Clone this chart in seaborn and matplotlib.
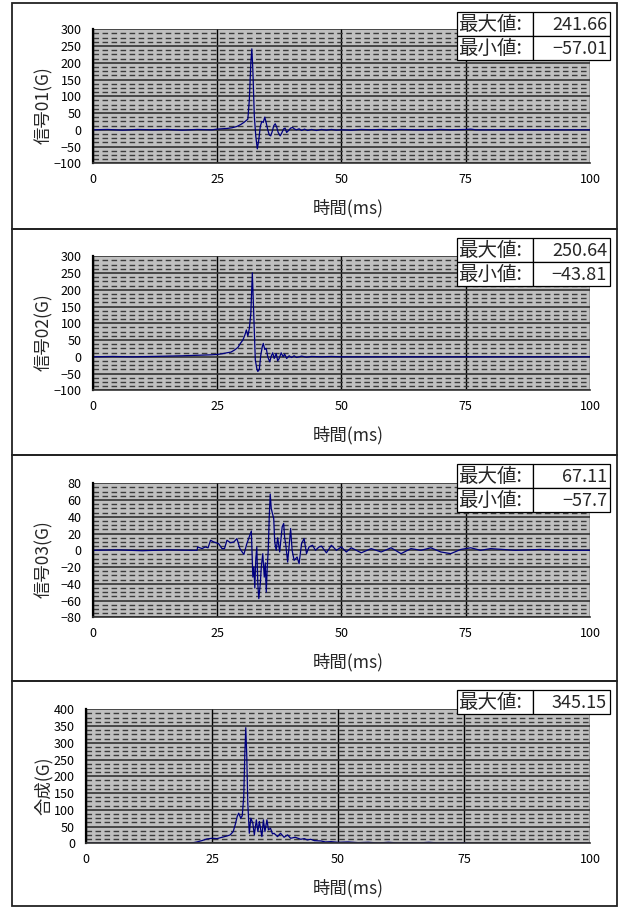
import pandas as pd
import seaborn as sns
import matplotlib.pyplot as plt
from matplotlib.patches import Rectangle
from matplotlib.ticker import MultipleLocator

# Hand-read waveform points (time ms, value G)
sig01 = [(0, 0), (3, 1), (6, -1), (9, 1), (12, 0), (15, 1), (18, -1), (21, 1), (24, 0),
         (25, 2), (26, 3), (27, 4), (28, 6), (29, 10), (29.8, 16), (30.4, 22), (30.9, 28),
         (31.2, 32), (31.5, 90), (31.8, 200), (32.0, 241.66), (32.2, 180), (32.5, 40),
         (32.8, -20), (33.1, -57.01), (33.4, -30), (33.7, 10), (34.0, 25), (34.3, 22),
         (34.6, 38), (34.9, 20), (35.2, 0), (35.5, -15), (35.8, -18), (36.1, -5), (36.4, 12),
         (36.7, 18), (37.0, 8), (37.3, -8), (37.7, -18), (38.0, -10), (38.4, 3), (38.7, 5),
         (39.0, -8), (39.4, -2), (39.8, 5), (40.2, 7), (40.6, 2), (41.0, 0), (41.5, 3),
         (42.0, -2), (42.6, 2), (43.2, -2), (44, 1), (45, -2), (46, 1), (47, -1), (48, 1),
         (49, -1), (50, 0), (52, -1), (54, 1), (56, 0), (58, 1), (60, 0), (62, 1), (65, 0),
         (68, 0), (70, 1), (72, 0), (75, 1), (76, 2), (77, 0), (100, 0)]

sig02 = [(0, 0), (4, 1), (8, 0), (12, 1), (15, 2), (18, 3), (20, 4), (22, 5), (24, 6),
         (25, 7), (26, 9), (27, 12), (27.8, 14), (28.5, 20), (29.2, 28), (29.7, 40),
         (30.2, 50), (30.6, 65), (30.9, 80), (31.2, 62), (31.5, 85), (31.8, 130),
         (32.1, 250.64), (32.4, 120), (32.7, -10), (33.0, -35), (33.2, -43.81), (33.5, -38),
         (33.8, 5), (34.1, 30), (34.3, 40), (34.6, 22), (34.9, 25), (35.2, 0), (35.6, -15),
         (35.9, 2), (36.2, 12), (36.5, -5), (36.9, 10), (37.2, -12), (37.5, -5), (37.9, 12),
         (38.3, 0), (38.6, 8), (39.0, -5), (39.5, 3), (40, -2), (40.5, 3), (41, -2), (42, 2),
         (43, -1), (44, 1), (46, 0), (48, 1), (50, 0), (100, 0)]

sig03 = [(0, 0), (5, 0.5), (10, -0.5), (15, 0.5), (20, 0), (21, 0), (21.1, 4), (22, 2),
         (22.6, 4), (23.2, 3), (23.7, 12), (24.3, 10), (25.3, 8), (26, 2), (26.5, 2),
         (27, 12), (27.7, 9), (28.4, 10), (29, 14), (29.6, 2), (30.4, -5), (31, 8),
         (31.6, 18), (31.9, 23), (32.2, -32), (32.4, -20), (32.6, -45), (32.8, -10),
         (33.0, 4), (33.2, -40), (33.4, -57.7), (33.7, -40), (33.9, -20), (34.2, -4),
         (34.5, -32), (34.7, -15), (34.9, -50), (35.1, -20), (35.3, 0), (35.5, 40),
         (35.7, 67.11), (35.9, 50), (36.1, 45), (36.4, 38), (36.6, 10), (36.9, 0), (37.2, 15),
         (37.6, -2), (38.1, 28), (38.4, 32), (38.6, 15), (38.8, 8), (39.2, -14), (39.5, 5),
         (39.8, 26), (40.1, 0), (40.5, -12), (41.1, -8), (41.5, -16), (42, 8), (42.5, 14),
         (43, -4), (43.5, 4), (44.2, 6), (44.8, 0), (45.5, 4), (46, 5), (47, -3), (48, 6),
         (49, 0), (50, 4), (51, -2), (52, 3), (54, -3), (56, 2), (58, -2), (60, 3), (62, -4),
         (64, 2), (66, 0), (68, 3), (70, -2), (72, -4), (74, 1), (76, 3), (78, 0), (80, 2),
         (85, 0), (90, 1), (95, 0), (100, 0)]

sig_sum = [(0, 0), (10, 0), (20, 0), (21, 1), (22, 4), (23, 8), (24, 13), (25, 15), (26, 14),
           (27, 18), (28, 22), (28.6, 25), (29.2, 35), (29.6, 55), (30.0, 80), (30.3, 90),
           (30.7, 75), (31.0, 82), (31.3, 140), (31.5, 260), (31.7, 345.15), (31.9, 260),
           (32.1, 120), (32.4, 30), (32.7, 75), (33.1, 60), (33.4, 25), (33.8, 70), (34.1, 35),
           (34.4, 65), (34.9, 20), (35.2, 70), (35.5, 35), (35.9, 70), (36.2, 40), (36.6, 45),
           (37.0, 28), (37.3, 30), (38, 20), (38.6, 30), (39.3, 18), (40, 25), (40.6, 15),
           (41.5, 18), (42.6, 12), (43.3, 14), (43.9, 10), (44.6, 12), (45.3, 8), (46.6, 7),
           (47.5, 4), (48.6, 5), (50, 3), (52, 4), (54, 2), (56, 3), (58, 1), (60, 3), (62, 1),
           (64, 2), (66, 1), (68, 3), (70, 1), (72, 2), (74, 1), (75, 2), (76, 0), (100, 0)]

signals = [sig01, sig02, sig03, sig_sum]
ylabels = ["信号01(G)", "信号02(G)", "信号03(G)", "合成(G)"]
ylims = [(-100, 300, 50), (-100, 300, 50), (-80, 80, 20), (0, 400, 50)]
stats = [[("最大値:", "241.66"), ("最小値:", "−57.01")],
         [("最大値:", "250.64"), ("最小値:", "−43.81")],
         [("最大値:", "67.11"), ("最小値:", "−57.7")],
         [("最大値:", "345.15")]]
xticks = [0, 25, 50, 75, 100]

sns.set_theme(style="white")
plt.rcParams["font.family"] = ["Noto Sans CJK JP", "DejaVu Sans"]

W, H = 621, 908
fig = plt.figure(figsize=(W / 100, H / 100), dpi=100)

# layout in pixels
plot_left = [92.7, 92.7, 92.7, 86]
plot_top = [29.3, 256.3, 483.3, 709.3]
frame_top = [3, 229, 455, 681, 906]
PH = 134

for i, pts in enumerate(signals):
    df = pd.DataFrame(pts, columns=["t", "v"])
    left, top = plot_left[i], plot_top[i]
    pw = 590 - left
    ax = fig.add_axes([left / W, 1 - (top + PH) / H, pw / W, PH / H])
    ax.set_facecolor("#c0c0c0")
    lo, hi, step = ylims[i]
    ax.set_xlim(0, 100)
    ax.set_ylim(lo, hi)
    ax.set_xticks(xticks)
    ax.yaxis.set_major_locator(MultipleLocator(step))
    ax.yaxis.set_minor_locator(MultipleLocator(step / 4))
    ax.grid(which="minor", axis="y", color="#3c3c3c", lw=1.0, ls=(0, (4, 2.5)))
    ax.grid(which="major", axis="y", color="#333333", lw=1.2)
    ax.grid(which="major", axis="x", color="black", lw=1.0)
    ax.set_axisbelow(True)

    sns.lineplot(data=df, x="t", y="v", ax=ax, color="#000080", linewidth=0.9,
                 estimator=None, sort=False)

    for s in ["top", "right"]:
        ax.spines[s].set_visible(False)
    ax.spines["left"].set_color("black")
    ax.spines["left"].set_linewidth(1.6)
    ax.spines["bottom"].set_color("#333333")
    ax.spines["bottom"].set_linewidth(1.2)
    ax.tick_params(axis="both", which="both", length=0, labelsize=9, colors="black")
    ax.tick_params(axis="x", pad=7)
    ax.tick_params(axis="y", pad=8)

    ax.set_xlabel("時間(ms)", fontsize=12.5)
    ax.xaxis.set_label_coords((348 - left) / pw, -36 / PH)
    ax.set_ylabel(ylabels[i], fontsize=12.5)
    ax.yaxis.set_label_coords((53 - left) / pw, 0.433)

    # outer frame of the chart block
    ftop, fbot = frame_top[i], frame_top[i + 1]
    fig.add_artist(Rectangle((12 / W, 1 - fbot / H), (617 - 12) / W, (fbot - ftop) / H,
                             transform=fig.transFigure, fill=False, ec="#222222", lw=1.3))

    # max / min box
    for r, (lab, val) in enumerate(stats[i]):
        ry = ftop + 9 + r * 24
        for x0, x1 in [(457, 533), (533, 610)]:
            fig.add_artist(Rectangle((x0 / W, 1 - (ry + 24) / H), (x1 - x0) / W, 24 / H,
                                     transform=fig.transFigure, fc="white", ec="black",
                                     lw=0.9, zorder=5))
        fig.text(458 / W, 1 - (ry + 12.5) / H, lab, ha="left", va="center",
                 fontsize=14, zorder=6)
        fig.text(607 / W, 1 - (ry + 12.5) / H, val, ha="right", va="center",
                 fontsize=13, zorder=6)

fig.savefig("out.png", dpi=100)
plt.close(fig)
